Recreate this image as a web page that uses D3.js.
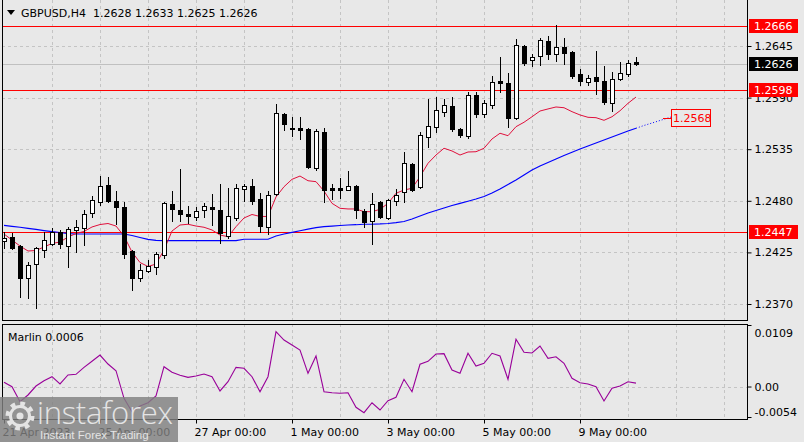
<!DOCTYPE html>
<html><head><meta charset="utf-8">
<script src="https://cdn.jsdelivr.net/npm/d3@7"></script>
<style>
html,body{margin:0;padding:0;background:#e8e8e8;overflow:hidden}
svg{display:block}
text{font-family:"DejaVu Sans",Tahoma,sans-serif;font-size:11px}
</style></head><body>
<svg id="c" width="804" height="442"></svg>
<script>
// ---- data (GBPUSD H4, 80 bars from 21 Apr 2023 00:00) ----
const opens=[1.2437,1.2441,1.2432,1.2398,1.2413,1.2428,1.2434,1.2447,1.2432,1.2449,1.2451,1.2467,1.2479,1.2497,1.2480,1.2473,1.2427,1.2398,1.2405,1.2409,1.2422,1.2477,1.2470,1.2466,1.2463,1.2470,1.2473,1.2470,1.2442,1.2462,1.2493,1.2496,1.2482,1.2452,1.2487,1.2573,1.2558,1.2558,1.2556,1.2515,1.2553,1.2494,1.2494,1.2492,1.2496,1.2469,1.2458,1.2479,1.2462,1.2480,1.2489,1.2519,1.2495,1.2548,1.2559,1.2575,1.2581,1.2557,1.2549,1.2593,1.2572,1.2582,1.2608,1.2606,1.2568,1.2645,1.2630,1.2634,1.2650,1.2637,1.2644,1.2639,1.2615,1.2607,1.2612,1.2608,1.2584,1.2610,1.2615,1.2628];
const highs=[1.2447,1.2446,1.2433,1.2415,1.2431,1.2447,1.2451,1.2449,1.2452,1.2460,1.2470,1.2485,1.2506,1.2505,1.2490,1.2479,1.2428,1.2413,1.2417,1.2425,1.2479,1.2490,1.2514,1.2474,1.2473,1.2478,1.2487,1.2498,1.2494,1.2498,1.2498,1.2503,1.2488,1.2490,1.2583,1.2574,1.2569,1.2569,1.2558,1.2556,1.2558,1.2498,1.2504,1.2512,1.2497,1.2471,1.2488,1.2480,1.2482,1.2493,1.2532,1.2520,1.2553,1.2588,1.2591,1.2588,1.2591,1.2558,1.2596,1.2596,1.2587,1.2613,1.2633,1.2616,1.2652,1.2646,1.2637,1.2653,1.2656,1.2667,1.2654,1.2640,1.2620,1.2614,1.2640,1.2624,1.2617,1.2628,1.2630,1.2633];
const lows=[1.2430,1.2429,1.2377,1.2376,1.2366,1.2420,1.2433,1.2430,1.2409,1.2425,1.2433,1.2463,1.2476,1.2479,1.2455,1.2419,1.2385,1.2394,1.2404,1.2402,1.2419,1.2459,1.2458,1.2456,1.2460,1.2463,1.2454,1.2435,1.2440,1.2460,1.2480,1.2477,1.2447,1.2445,1.2486,1.2555,1.2549,1.2546,1.2515,1.2513,1.2479,1.2482,1.2483,1.2491,1.2462,1.2452,1.2434,1.2462,1.2461,1.2476,1.2479,1.2490,1.2494,1.2537,1.2553,1.2570,1.2554,1.2548,1.2547,1.2569,1.2569,1.2579,1.2596,1.2559,1.2567,1.2625,1.2624,1.2625,1.2631,1.2629,1.2626,1.2611,1.2603,1.2603,1.2594,1.2583,1.2576,1.2609,1.2613,1.2625];
const closes=[1.2440,1.2430,1.2398,1.2412,1.2430,1.2438,1.2447,1.2434,1.2450,1.2452,1.2466,1.2481,1.2496,1.2480,1.2473,1.2423,1.2398,1.2406,1.2410,1.2423,1.2478,1.2471,1.2466,1.2464,1.2469,1.2474,1.2471,1.2446,1.2464,1.2494,1.2496,1.2480,1.2453,1.2486,1.2574,1.2562,1.2556,1.2555,1.2516,1.2554,1.2492,1.2492,1.2491,1.2496,1.2470,1.2457,1.2477,1.2463,1.2481,1.2486,1.2520,1.2492,1.2550,1.2560,1.2577,1.2582,1.2556,1.2550,1.2593,1.2573,1.2584,1.2607,1.2606,1.2568,1.2646,1.2627,1.2633,1.2651,1.2636,1.2644,1.2638,1.2613,1.2608,1.2611,1.2608,1.2585,1.2610,1.2616,1.2627,1.2626];
const maFast=[1.24446,1.24382,1.24318,1.24265,1.24270,1.24308,1.24345,1.24361,1.24414,1.24451,1.24473,1.24521,1.24547,1.24558,1.24531,1.24425,1.24254,1.24142,1.24100,1.24126,1.24276,1.24478,1.24542,1.24550,1.24531,1.24518,1.24489,1.24435,1.24417,1.24524,1.24617,1.24654,1.24633,1.24633,1.24841,1.24950,1.25029,1.25064,1.25014,1.25004,1.24904,1.24773,1.24720,1.24713,1.24713,1.24684,1.24684,1.24709,1.24773,1.24880,1.24915,1.24933,1.25057,1.25200,1.25288,1.25360,1.25331,1.25288,1.25320,1.25323,1.25360,1.25459,1.25520,1.25494,1.25590,1.25637,1.25696,1.25757,1.25779,1.25800,1.25792,1.25750,1.25715,1.25690,1.25686,1.25658,1.25696,1.25760,1.25839,1.25906];
const maSlow=[1.24539,1.24528,1.24518,1.24507,1.24496,1.24483,1.24471,1.24462,1.24451,1.24446,1.24446,1.24446,1.24446,1.24446,1.24446,1.24446,1.24430,1.24409,1.24388,1.24379,1.24375,1.24375,1.24375,1.24375,1.24375,1.24375,1.24375,1.24375,1.24375,1.24375,1.24390,1.24390,1.24390,1.24390,1.24425,1.24446,1.24464,1.24481,1.24499,1.24515,1.24524,1.24531,1.24537,1.24542,1.24545,1.24550,1.24550,1.24553,1.24558,1.24567,1.24579,1.24606,1.24638,1.24670,1.24697,1.24723,1.24750,1.24773,1.24795,1.24819,1.24846,1.24883,1.24926,1.24974,1.25022,1.25075,1.25128,1.25171,1.25208,1.25246,1.25283,1.25317,1.25352,1.25384,1.25416,1.25448,1.25480,1.25512,1.25544,1.25573];
const maSlowAhead=[1.25573,1.25603,1.25629,1.25656,1.25683,1.25709,1.25736,1.25763];
const marlin=[0.00075,-0.00003,-0.00269,-0.0015,0.00009,0.00103,0.00174,0.00045,0.00204,0.00216,0.0034,0.00447,0.00558,0.00399,0.0028,-0.00209,-0.00446,-0.00345,-0.00287,-0.00168,0.00351,0.00252,0.00199,0.00163,0.00186,0.00222,0.00174,-0.00079,0.00085,0.0034,0.00323,0.00174,-0.00092,0.00174,0.00971,0.00824,0.00736,0.00647,0.00234,0.00541,-0.00092,-0.0011,-0.0012,-0.0011,-0.00368,-0.00464,-0.00287,-0.00416,-0.00251,-0.00191,0.00128,-0.00092,0.00394,0.00447,0.00576,0.00582,0.00293,0.00234,0.00589,0.00364,0.00411,0.00589,0.00541,0.00128,0.00837,0.00606,0.00594,0.00718,0.005,0.00528,0.00411,0.00146,0.00068,0.00045,-0.00003,-0.00257,-0.00032,0.00009,0.00085,0.0006];
const priceTicks=[1.2645,1.2590,1.2535,1.2480,1.2425,1.2370];
const levelLines=[1.2666,1.2598,1.2447];
const lastPrice=1.2626;
const maLabel=1.2568;
const marlinTicks=[0.0109,0.00,-0.0054];
const timeLabels=["21 Apr 2023","25 Apr 00:00","27 Apr 00:00","1 May 00:00","3 May 00:00","5 May 00:00","9 May 00:00"];
const timeLabelBars=[0,12,24,36,48,60,72];
const titleText="GBPUSD,H4  1.2628 1.2633 1.2625 1.2626";
const marlinTitle="Marlin 0.0006";

// ---- layout ----
const svg=d3.select("#c");
const RIGHT=747, MAIN_TOP=0, MAIN_BOT=320, SUB_TOP=324, SUB_BOT=419;
const x=d3.scaleLinear().domain([0,80]).range([4,644]);
const y=d3.scaleLinear().domain([1.2370,1.2645]).range([304,46]);
const ys=d3.scaleLinear().domain([-0.0054,0.0109]).range([417,325]);
const px=v=>Math.round(v)+0.5;

svg.append("rect").attr("width",804).attr("height",442).attr("fill","#e8e8e8");

const grid=svg.append("g").attr("stroke","#c4c4c4").attr("stroke-dasharray","3,3").attr("shape-rendering","crispEdges");
const vBars=d3.range(6,92,6);
vBars.forEach(b=>{
  grid.append("line").attr("x1",px(x(b))).attr("x2",px(x(b))).attr("y1",MAIN_TOP).attr("y2",MAIN_BOT);
  grid.append("line").attr("x1",px(x(b))).attr("x2",px(x(b))).attr("y1",SUB_TOP).attr("y2",SUB_BOT);
});
priceTicks.forEach(p=>grid.append("line").attr("x1",2).attr("x2",RIGHT).attr("y1",px(y(p))).attr("y2",px(y(p))));
grid.append("line").attr("x1",2).attr("x2",RIGHT).attr("y1",px(ys(0))).attr("y2",px(ys(0)));

svg.append("line").attr("x1",2).attr("x2",RIGHT).attr("y1",px(y(lastPrice))).attr("y2",px(y(lastPrice)))
  .attr("stroke","#c0c0c0").attr("shape-rendering","crispEdges");

levelLines.forEach(p=>svg.append("line").attr("x1",2).attr("x2",RIGHT).attr("y1",px(y(p))).attr("y2",px(y(p)))
  .attr("stroke","#ff0000").attr("shape-rendering","crispEdges"));

const lineP=d3.line().x((d,i)=>x(i)).y(d=>y(d));
svg.append("path").attr("d",lineP(maSlow)).attr("fill","none").attr("stroke","#0000ff").attr("stroke-width",1.2);
const lineAhead=d3.line().x((d,i)=>x(i+79)).y(d=>y(d));
svg.append("path").attr("d",lineAhead(maSlowAhead)).attr("fill","none").attr("stroke","#0000ff").attr("stroke-width",1).attr("stroke-dasharray","1,2");
svg.append("path").attr("d",lineP(maFast)).attr("fill","none").attr("stroke","#e0103c").attr("stroke-width",1);

const cg=svg.append("g").attr("shape-rendering","crispEdges");
opens.forEach((o,i)=>{
  const c=closes[i], X=Math.round(x(i));
  cg.append("line").attr("x1",X+0.5).attr("x2",X+0.5).attr("y1",Math.round(y(highs[i]))).attr("y2",Math.round(y(lows[i]))+1).attr("stroke","#000");
  const top=Math.round(y(Math.max(o,c))), bot=Math.round(y(Math.min(o,c)));
  cg.append("rect").attr("x",X-2+0.5).attr("y",top+0.5).attr("width",4).attr("height",Math.max(bot-top,1))
    .attr("fill",c>=o?"#ffffff":"#000000").attr("stroke","#000");
});

const yl=Math.round(y(maLabel));
svg.append("line").attr("x1",663).attr("x2",671).attr("y1",yl+0.5).attr("y2",yl+0.5).attr("stroke","#ff0000");
svg.append("rect").attr("x",671.5).attr("y",yl-8.5).attr("width",39).attr("height",17).attr("fill","#e8e8e8").attr("stroke","#ff0000");
svg.append("text").attr("x",673).attr("y",yl+4).attr("fill","#ff0000").text(maLabel.toFixed(4));

const lineM=d3.line().x((d,i)=>x(i)).y(d=>ys(d));
svg.append("path").attr("d",lineM(marlin)).attr("fill","none").attr("stroke","#990099").attr("stroke-width",1.1);

const fr=svg.append("g").attr("stroke","#000").attr("shape-rendering","crispEdges").attr("fill","none");
fr.append("line").attr("x1",2.5).attr("x2",2.5).attr("y1",0).attr("y2",MAIN_BOT);
fr.append("line").attr("x1",RIGHT+0.5).attr("x2",RIGHT+0.5).attr("y1",0).attr("y2",MAIN_BOT);
fr.append("line").attr("x1",2).attr("x2",RIGHT+1).attr("y1",MAIN_BOT+0.5).attr("y2",MAIN_BOT+0.5);
fr.append("rect").attr("x",2.5).attr("y",SUB_TOP+0.5).attr("width",RIGHT-2).attr("height",SUB_BOT-SUB_TOP);

const ax=svg.append("g").attr("transform",`translate(${RIGHT+0.5},0)`)
  .call(d3.axisRight(y).tickValues(priceTicks).tickFormat(d3.format(".4f")).tickSize(4).tickPadding(3));
ax.select(".domain").remove();
ax.selectAll("text").attr("fill","#000");
ax.selectAll("line").attr("stroke","#000");

const axm=svg.append("g").attr("transform",`translate(${RIGHT+0.5},0)`)
  .call(d3.axisRight(ys).tickValues(marlinTicks).tickFormat(d=>d===0?"0.00":d.toFixed(4)).tickSize(4).tickPadding(3));
axm.select(".domain").remove();
axm.selectAll("text").attr("fill","#000")
  .attr("dy",(d)=>d===0.0109?"1.05em":(d===-0.0054?"-0.1em":"0.32em"));
axm.selectAll("line").attr("stroke","#000");

function tag(p,bg,fg){
  const yy=Math.round(y(p));
  svg.append("rect").attr("x",749).attr("y",yy-7).attr("width",49).attr("height",14).attr("fill",bg);
  svg.append("text").attr("x",754).attr("y",yy+4).attr("fill",fg).text(p.toFixed(4));
}
levelLines.forEach(p=>tag(p,"#ff0000","#ffffff"));
tag(lastPrice,"#000000","#ffffff");

const at=svg.append("g").attr("transform",`translate(0,${SUB_BOT+0.5})`)
  .call(d3.axisBottom(x).tickValues(timeLabelBars).tickFormat((d,i)=>timeLabels[i]).tickSize(4).tickPadding(5));
at.select(".domain").remove();
at.selectAll("text").attr("text-anchor","start").attr("dx",-2).attr("fill","#000");
at.selectAll("line").attr("stroke","#000");

svg.append("path").attr("d","M7,10 L15,10 L11,15 Z").attr("fill","#000");
svg.append("text").attr("x",21).attr("y",17).attr("fill","#000").style("white-space","pre").text(titleText);
svg.append("text").attr("x",8).attr("y",341).attr("fill","#000").text(marlinTitle);

// watermark (semi-transparent, over the first time labels as in the reference)
const wm=svg.append("g");
wm.append("rect").attr("x",0).attr("y",397).attr("width",178).attr("height",45).attr("fill","#808080").attr("opacity",0.82);
const gx=20, gy=416;
wm.append("circle").attr("cx",gx).attr("cy",gy).attr("r",12).attr("fill","none").attr("stroke","#e4e4e4").attr("stroke-width",5).attr("stroke-dasharray","4.5,4.9");
wm.append("circle").attr("cx",gx).attr("cy",gy).attr("r",9.5).attr("fill","none").attr("stroke","#e4e4e4").attr("stroke-width",3);
wm.append("circle").attr("cx",gx).attr("cy",gy).attr("r",3.5).attr("fill","#e4e4e4");
wm.append("text").attr("x",37).attr("y",424).attr("fill","#e4e4e4")
  .style("font-family","'Open Sans'").style("font-size","31px").style("font-weight","300").style("letter-spacing","-0.3px").text("instaforex");
wm.append("text").attr("x",40).attr("y",439).attr("fill","#e4e4e4")
  .style("font-family","'Liberation Sans Narrow','Liberation Sans'").style("font-size","11.5px").text("Instant Forex Trading");
</script>
</body></html>
